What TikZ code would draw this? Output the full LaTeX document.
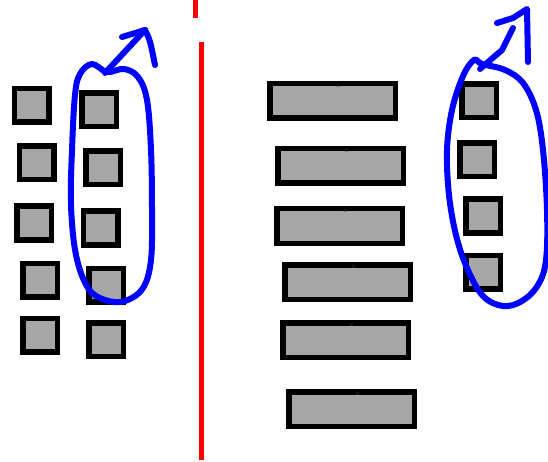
\documentclass[tikz,border=0pt]{standalone}
\usetikzlibrary{arrows.meta,positioning,calc}
\definecolor{boxgray}{RGB}{166,166,166}
\begin{document}
\begin{tikzpicture}[
  x=1pt,y=-1pt,
  sq/.style={draw=black,line width=5.5pt,fill=boxgray,
             minimum width=34.5pt,minimum height=33.5pt,inner sep=0pt},
  bar/.style={sq,minimum width=125.5pt,minimum height=34.5pt},
  tinyx/.style={font=\fontsize{6}{6}\selectfont,inner sep=0pt,text=black!75},
  divider/.style={red,line width=5pt},
  scribble/.style={blue,line width=6pt,line cap=round,line join=round},
]
\useasboundingbox (0,0) rectangle (548,462);

% ---- left: two columns of small boxes -----------------------------------
\node[sq] (L1) at (31.5,105.5) {};
\node[sq] (L2) at (36.5,163)   {};
\node[sq] (L3) at (34,223)     {};
\node[sq] (L4) at (40,280)     {};
\node[sq] (L5) at (40,335)     {};

\node[sq] (M1) at (99,110)     {};
\node[sq] (M2) at (103,168)    {};
\node[sq] (M3) at (100.5,228)  {};
\node[sq] (M4) at (106,285)    {};
\node[sq] (M5) at (106,339.5)  {};

% ---- divider -------------------------------------------------------------
\draw[divider] (195.5,0) -- (195.5,18);
\draw[divider] (201.5,42) -- (201.5,460);

% ---- right: wide bars and one column of boxes ----------------------------
\node[bar] (B1) at (332.5,101) {};
\node[bar] (B2) at (340.5,166) {};
\node[bar] (B3) at (339.5,226) {};
\node[bar] (B4) at (347.5,282) {};
\node[bar] (B5) at (345.5,340) {};
\node[bar] (B6) at (351.5,409) {};

\node[tinyx] (B1x) at ($(B1.north)+(6,5)$) {x};
\node[tinyx] (B2x) at ($(B2.north)+(6,5)$) {x};
\node[tinyx] (B3x) at ($(B3.north)+(6,5)$) {x};
\node[tinyx] (B4x) at ($(B4.north)+(6,5)$) {x};
\node[tinyx] (B5x) at ($(B5.north)+(6,5)$) {x};
\node[tinyx] (B6x) at ($(B6.north)+(6,5)$) {x};

\node[sq] (R1) at (479,101) {};
\node[sq] (R2) at (477,160) {};
\node[sq] (R3) at (483,216) {};
\node[sq] (R4) at (483,272) {};

% ---- hand-drawn loops with arrows ----------------------------------------
\draw[scribble] plot[smooth cycle,tension=0.6] coordinates {
  (107,72) (92,64) (80,74) (75,95) (72,150) (71,205) (76,255)
  (88,288) (105,300) (125,301) (143,288) (151,260) (152,210)
  (151,150) (147,100) (138,77) (124,69)};
\draw[scribble] (105,73) -- (145,30);
\draw[scribble] (122,37) -- (145,30) .. controls (150,40) .. (155,65);

\draw[scribble] plot[smooth cycle,tension=0.6] coordinates {
  (482,64) (474,60) (463,76) (452,110) (447,150) (449,195)
  (456,235) (467,268) (483,296) (503,306) (522,301) (538,285)
  (546,260) (547,210) (543,150) (536,110) (523,83) (505,70)};
\draw[scribble] (480,69) -- (502,50) -- (513,28);
\draw[scribble] (497,23) -- (513,18) -- (527,9) -- (528,62);

\end{tikzpicture}
\end{document}
